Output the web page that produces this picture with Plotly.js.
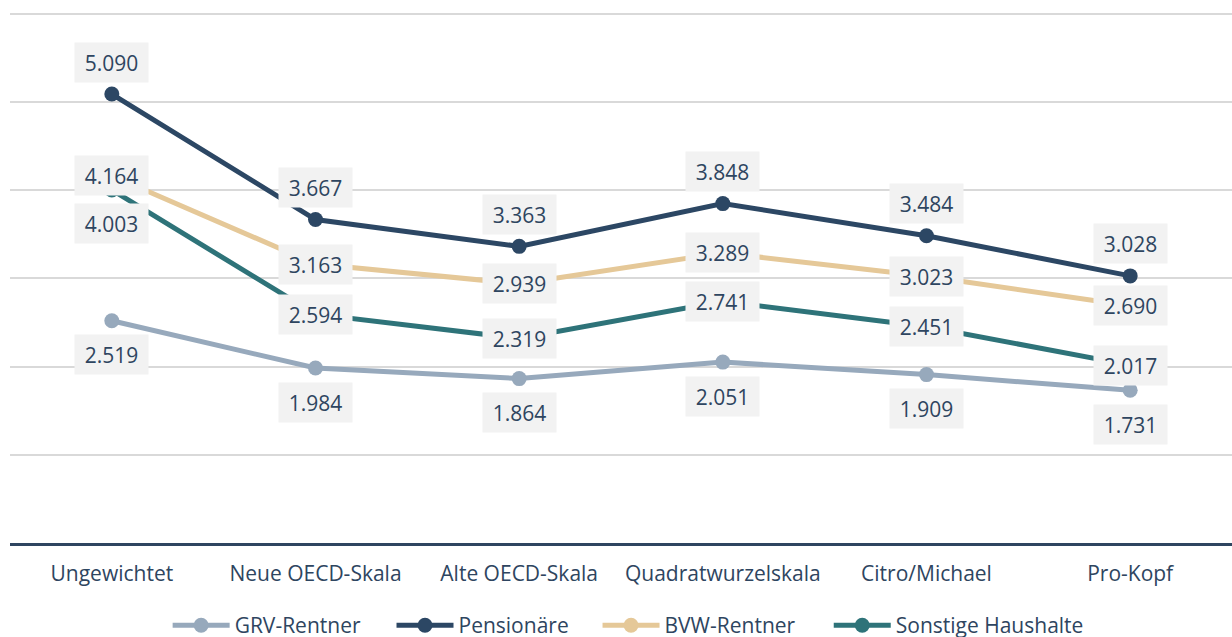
<!DOCTYPE html>
<html>
<head>
<meta charset="utf-8">
<script src="https://cdn.plot.ly/plotly-3.0.1.min.js"></script>
<style>html,body{margin:0;padding:0;background:#fff;}#chart{width:1232px;height:637px;}</style>
</head>
<body>
<div id="chart"></div>
<script>
const categories = ["Ungewichtet", "Neue OECD-Skala", "Alte OECD-Skala", "Quadratwurzelskala", "Citro/Michael", "Pro-Kopf"];
const seriesNames = ["GRV-Rentner", "Pensionäre", "BVW-Rentner", "Sonstige Haushalte"];
const grvRentner = [2519, 1984, 1864, 2051, 1909, 1731];
const pensionaere = [5090, 3667, 3363, 3848, 3484, 3028];
const bvwRentner = [4164, 3163, 2939, 3289, 3023, 2690];
const sonstigeHaushalte = [4003, 2594, 2319, 2741, 2451, 2017];

const seriesValues = [grvRentner, pensionaere, bvwRentner, sonstigeHaushalte];
const colors = ["#97a9bc", "#2c4764", "#e5c898", "#2e7379"];
// label placement per series: shift in px (positive = above)
const labelShift = [
  [-34, -34, -34, -34, -34, -34],
  [32, 32, 32, 32, 32, 32],
  [0, 0, 0, 0, 0, 0],
  [-34, 0, 0, 0, 0, 0]
];
// legend entry left edges (paper fraction)
const legendX = [0.1290, 0.3122, 0.4808, 0.6700];
const textColor = "#2e4560";
const fontFam = "'Open Sans', 'Noto Sans', sans-serif";

function fmt(v) {
  return (v / 1000).toFixed(3);
}

const legendIds = ["legend", "legend2", "legend3", "legend4"];

const traces = seriesValues.map((vals, i) => ({
  type: "scatter",
  mode: "lines+markers",
  name: seriesNames[i],
  x: categories,
  y: vals,
  legend: legendIds[i],
  line: { color: colors[i], width: 5 },
  marker: { color: colors[i], size: 15 },
  hoverinfo: "skip"
}));

const annotations = [];
seriesValues.forEach((vals, i) => {
  vals.forEach((v, j) => {
    annotations.push({
      x: categories[j], y: v, xref: "x", yref: "y",
      text: fmt(v), showarrow: false,
      yshift: labelShift[i][j],
      bgcolor: "#f2f2f2", width: 71, height: 37,
      font: { family: fontFam, size: 21, color: textColor }
    });
  });
});

const layout = {
  width: 1232, height: 637,
  margin: { l: 10, r: 0, t: 12, b: 94, autoexpand: false },
  paper_bgcolor: "#ffffff", plot_bgcolor: "#ffffff",
  showlegend: true,
  xaxis: {
    type: "category", range: [-0.5, 5.5],
    showgrid: false, zeroline: false,
    showline: true, linecolor: "#2e4560", linewidth: 3,
    ticks: "", ticklabelstandoff: 10,
    tickfont: { family: fontFam, size: 21, color: textColor },
    fixedrange: true
  },
  yaxis: {
    range: [0, 6020], tickvals: [1000, 2000, 3000, 4000, 5000, 6000],
    showgrid: true, gridcolor: "#d9d9d9", gridwidth: 2,
    zeroline: false, showticklabels: false, ticks: "",
    fixedrange: true
  },
  annotations: annotations
};

legendIds.forEach((id, i) => {
  layout[id] = {
    orientation: "h", x: legendX[i], xanchor: "left", y: -0.117, yanchor: "top",
    font: { family: fontFam, size: 21, color: textColor },
    itemwidth: 57, bgcolor: "rgba(0,0,0,0)"
  };
});

Plotly.newPlot("chart", traces, layout, { displayModeBar: false, staticPlot: true });
</script>
</body>
</html>
